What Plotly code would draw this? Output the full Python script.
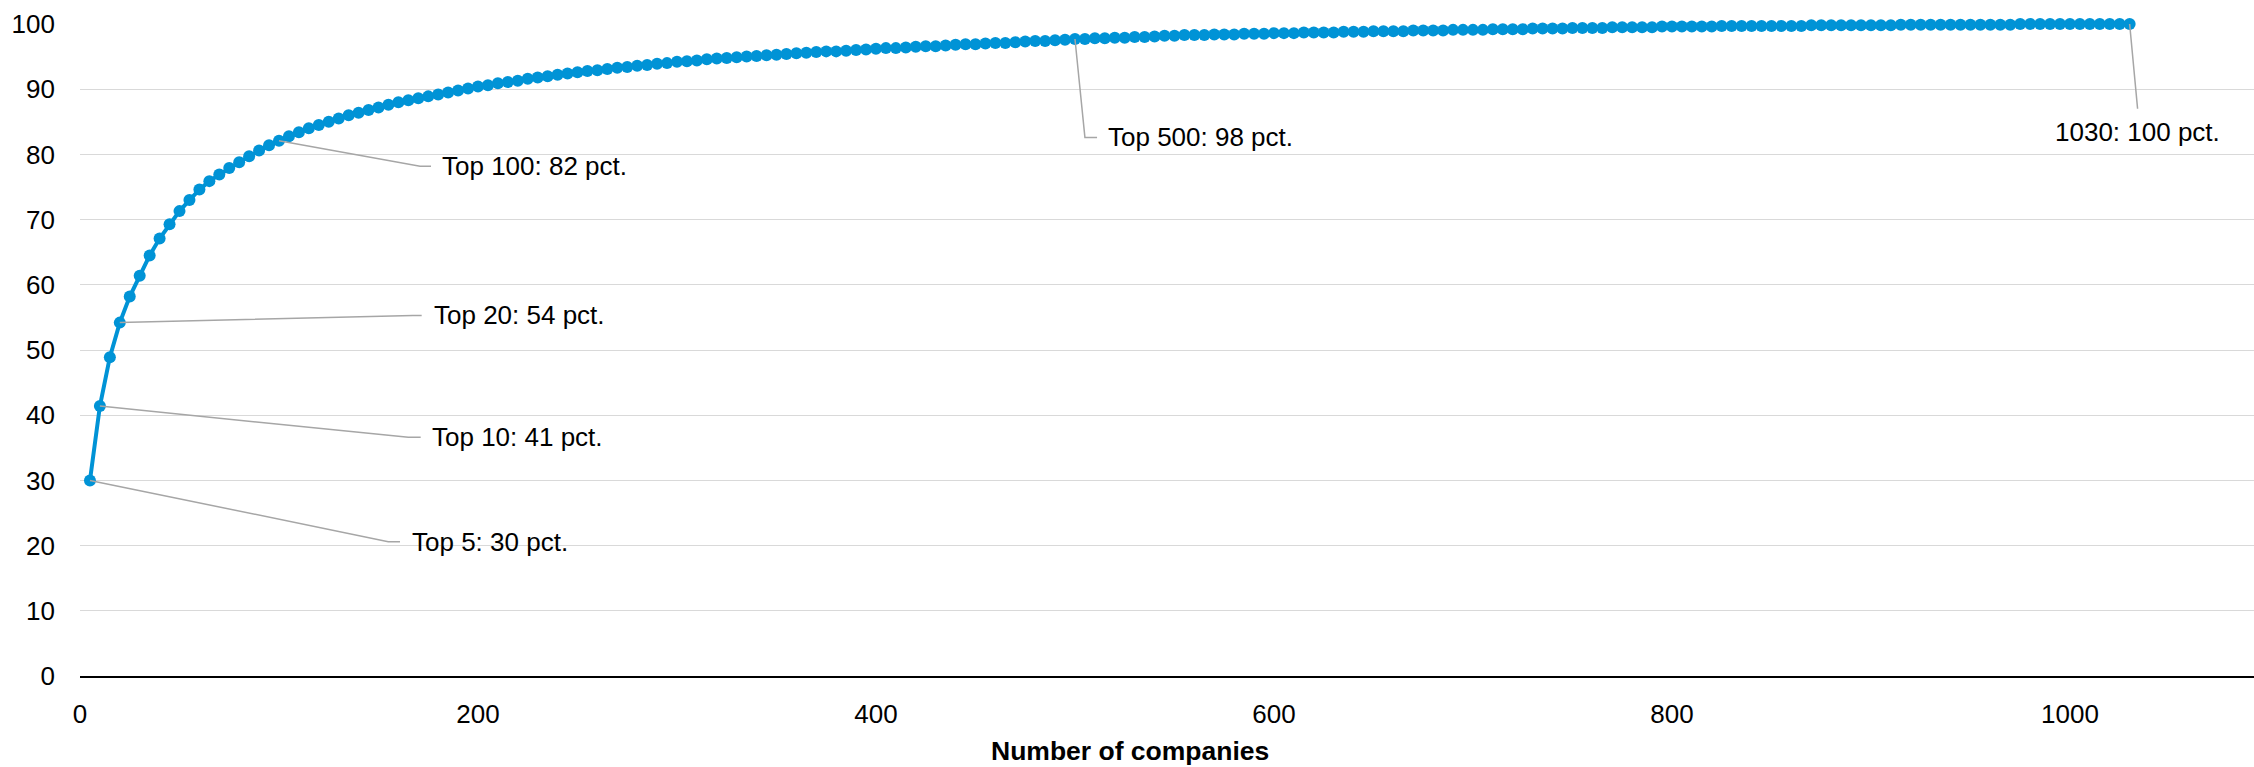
import plotly.graph_objects as go

# Number of companies (ranked by size) and their cumulative share, in pct.
companies = [
    5, 10, 15, 20, 25, 30, 35, 40, 45, 50,
    55, 60, 65, 70, 75, 80, 85, 90, 95, 100,
    105, 110, 115, 120, 125, 130, 135, 140, 145, 150,
    155, 160, 165, 170, 175, 180, 185, 190, 195, 200,
    205, 210, 215, 220, 225, 230, 235, 240, 245, 250,
    255, 260, 265, 270, 275, 280, 285, 290, 295, 300,
    305, 310, 315, 320, 325, 330, 335, 340, 345, 350,
    355, 360, 365, 370, 375, 380, 385, 390, 395, 400,
    405, 410, 415, 420, 425, 430, 435, 440, 445, 450,
    455, 460, 465, 470, 475, 480, 485, 490, 495, 500,
    505, 510, 515, 520, 525, 530, 535, 540, 545, 550,
    555, 560, 565, 570, 575, 580, 585, 590, 595, 600,
    605, 610, 615, 620, 625, 630, 635, 640, 645, 650,
    655, 660, 665, 670, 675, 680, 685, 690, 695, 700,
    705, 710, 715, 720, 725, 730, 735, 740, 745, 750,
    755, 760, 765, 770, 775, 780, 785, 790, 795, 800,
    805, 810, 815, 820, 825, 830, 835, 840, 845, 850,
    855, 860, 865, 870, 875, 880, 885, 890, 895, 900,
    905, 910, 915, 920, 925, 930, 935, 940, 945, 950,
    955, 960, 965, 970, 975, 980, 985, 990, 995, 1000,
    1005, 1010, 1015, 1020, 1025, 1030,
]

cumulative_share = [
    30.0, 41.4, 48.9, 54.2, 58.2, 61.4, 64.5, 67.1, 69.3, 71.3,
    73.0, 74.6, 75.9, 76.9, 77.9, 78.8, 79.7, 80.6, 81.4, 82.1,
    82.8, 83.4, 84.0, 84.5, 85.0, 85.5, 86.0, 86.4, 86.8, 87.2,
    87.6, 88.0, 88.3, 88.6, 88.9, 89.2, 89.5, 89.8, 90.1, 90.4,
    90.6, 90.9, 91.1, 91.3, 91.6, 91.8, 92.0, 92.2, 92.4, 92.6,
    92.8, 92.9, 93.1, 93.3, 93.4, 93.6, 93.7, 93.9, 94.0, 94.2,
    94.3, 94.4, 94.6, 94.7, 94.8, 94.9, 95.0, 95.1, 95.2, 95.3,
    95.4, 95.5, 95.6, 95.7, 95.8, 95.8, 95.9, 96.0, 96.1, 96.2,
    96.3, 96.3, 96.4, 96.5, 96.6, 96.6, 96.7, 96.8, 96.9, 96.9,
    97.0, 97.1, 97.1, 97.2, 97.3, 97.4, 97.4, 97.5, 97.6, 97.7,
    97.7, 97.8, 97.8, 97.9, 97.9, 98.0, 98.0, 98.1, 98.2, 98.2,
    98.3, 98.3, 98.3, 98.4, 98.4, 98.4, 98.5, 98.5, 98.5, 98.6,
    98.6, 98.6, 98.7, 98.7, 98.7, 98.7, 98.8, 98.8, 98.8, 98.9,
    98.9, 98.9, 98.9, 99.0, 99.0, 99.0, 99.0, 99.1, 99.1, 99.1,
    99.1, 99.2, 99.2, 99.2, 99.2, 99.3, 99.3, 99.3, 99.3, 99.4,
    99.4, 99.4, 99.4, 99.5, 99.5, 99.5, 99.5, 99.5, 99.6, 99.6,
    99.6, 99.6, 99.6, 99.6, 99.7, 99.7, 99.7, 99.7, 99.7, 99.7,
    99.7, 99.7, 99.7, 99.8, 99.8, 99.8, 99.8, 99.8, 99.8, 99.8,
    99.8, 99.8, 99.9, 99.9, 99.9, 99.9, 99.9, 99.9, 99.9, 99.9,
    99.9, 99.9, 99.9, 99.9, 100.0, 100.0, 100.0, 100.0, 100.0, 100.0,
    100.0, 100.0, 100.0, 100.0, 100.0, 100.0,
]

x_ticks = [0, 200, 400, 600, 800, 1000]
y_ticks = [0, 10, 20, 30, 40, 50, 60, 70, 80, 90, 100]
x_title = "Number of companies"

# Points that get a callout
labelled = [5, 10, 20, 100, 500, 1030]

# Callout geometry in axis units: (elbow x, end of leader x, text x, text y)
callout_geom = {
    5:    (154.9, 160.8, 165.8, 20.6),
    10:   (165.0, 171.2, 175.9, 36.6),
    20:   (167.3, 171.7, 176.7, 55.3),
    100:  (170.9, 176.4, 180.9, 78.2),
    500:  (505.0, 511.1, 515.6, 82.6),
}

FONT = "Arial, 'Liberation Sans', sans-serif"
BLUE = "#0093d6"
LEADER = "#a6a6a6"

fig = go.Figure()
fig.add_trace(go.Scatter(
    x=companies, y=cumulative_share,
    mode="lines+markers",
    line=dict(color=BLUE, width=4),
    marker=dict(color=BLUE, size=12),
    cliponaxis=False,
    showlegend=False,
    hoverinfo="x+y",
))

value_of = dict(zip(companies, cumulative_share))
shapes = []
annotations = []
for n in labelled:
    v = value_of[n]
    if n in callout_geom:
        ex, endx, tx, ty = callout_geom[n]
        shapes.append(dict(
            type="path", xref="x", yref="y",
            path=f"M {n},{v} L {ex},{ty} L {endx},{ty}",
            line=dict(color=LEADER, width=1.5),
        ))
        annotations.append(dict(
            x=tx, y=ty, xref="x", yref="y",
            text=f"Top {n}: {v:.0f} pct.",
            showarrow=False, xanchor="left", yanchor="middle",
            font=dict(family=FONT, size=26, color="#000000"),
        ))
    else:
        shapes.append(dict(
            type="line", xref="x", yref="y",
            x0=n, y0=v, x1=n + 4, y1=87.0,
            line=dict(color=LEADER, width=1.5),
        ))
        annotations.append(dict(
            x=n + 4, y=83.5, xref="x", yref="y",
            text=f"{n}: {v:.0f} pct.",
            showarrow=False, xanchor="center", yanchor="middle",
            font=dict(family=FONT, size=26, color="#000000"),
        ))

annotations.append(dict(
    x=0.483, y=-0.1395, xref="paper", yref="paper",
    text=f"<b>{x_title}</b>", showarrow=False,
    xanchor="center", yanchor="bottom", borderpad=0,
    font=dict(family=FONT, size=26.5, color="#000000"),
))

fig.update_layout(
    width=2254, height=767,
    margin=dict(l=80, r=0, t=24, b=91, pad=0),
    paper_bgcolor="white", plot_bgcolor="white",
    font=dict(family=FONT, size=26, color="#000000"),
    shapes=shapes,
    annotations=annotations,
    showlegend=False,
)
fig.update_xaxes(
    range=[0, 1092.5], tickvals=x_ticks,
    showgrid=False, zeroline=False,
    showline=True, linecolor="#000000", linewidth=2,
    ticks="", ticklabelstandoff=14,
    tickfont=dict(family=FONT, size=26, color="#000000"),
)
fig.update_yaxes(
    range=[0, 100], tickvals=y_ticks,
    showgrid=True, gridcolor="#d9d9d9", gridwidth=1.3,
    zeroline=False, showline=False,
    ticks="", ticklabelstandoff=24,
    tickfont=dict(family=FONT, size=26, color="#000000"),
)

fig.write_html("out.html")
